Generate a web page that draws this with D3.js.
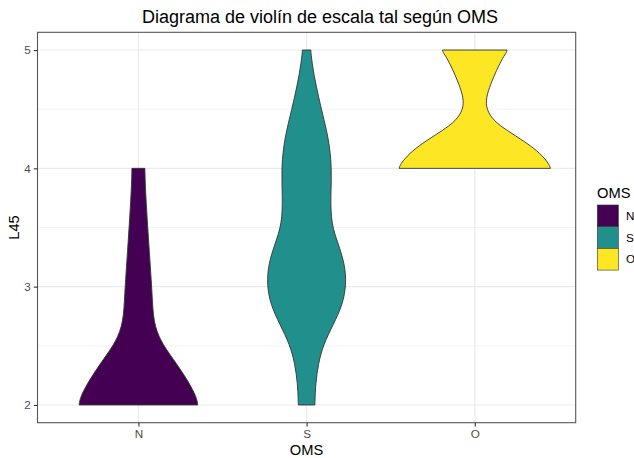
<!DOCTYPE html>
<html>
<head>
<meta charset="utf-8">
<script src="https://cdn.jsdelivr.net/npm/d3@7"></script>
<style>
  html, body { margin: 0; padding: 0; background: #fff; }
  svg { display: block; font-family: "Liberation Sans", Arial, sans-serif; }
</style>
</head>
<body>
<svg id="chart" width="634" height="458"></svg>
<script>
// ---- data ----
const categories = ["N", "S", "O"];
const colors = ["#440154", "#21908C", "#FDE725"];
const yTicks = [2, 3, 4, 5];
const yMinor = [2.5, 3.5, 4.5];
// density profiles [L45 value, relative density]
const densityN = [[2.0,0.783],[2.02,0.780],[2.05,0.770],[2.1,0.741],[2.21,0.648],[2.35,0.503],[2.49,0.345],[2.58,0.270],[2.66,0.225],[2.76,0.196],[2.88,0.185],[3.0,0.175],[3.22,0.152],[3.51,0.122],[3.79,0.095],[3.97,0.086],[4.0,0.086]];
const densityS = [[2.0,0.110],[2.03,0.110],[2.18,0.119],[2.35,0.155],[2.51,0.221],[2.68,0.353],[2.85,0.478],[3.02,0.525],[3.19,0.505],[3.36,0.419],[3.53,0.325],[3.76,0.317],[4.01,0.335],[4.26,0.290],[4.49,0.198],[4.77,0.100],[4.97,0.057],[5.0,0.057]];
const densityO = [[4.0,1.0],[4.02,0.99],[4.06,0.956],[4.15,0.824],[4.23,0.648],[4.32,0.427],[4.4,0.251],[4.5,0.150],[4.6,0.150],[4.71,0.208],[4.83,0.287],[4.94,0.374],[4.98,0.420],[5.0,0.427]];
const densities = [densityN, densityS, densityO];
const title = "Diagrama de violín de escala tal según OMS";
const xTitle = "OMS";
const yTitle = "L45";

// ---- layout ----
const svg = d3.select("#chart");
const P = { left: 37.5, right: 575.7, top: 32.3, bottom: 422.7 };

const x = d3.scalePoint().domain(categories).range([P.left, P.right]).padding(0.6);
const y = d3.scaleLinear().domain([1.85, 5.15]).range([P.bottom, P.top]);
const maxD = d3.max(densities.flat(), d => d[1]);
const w = d3.scaleLinear().domain([0, maxD]).range([0, 0.45 * x.step()]);

// panel background
svg.append("rect").attr("x", P.left).attr("y", P.top)
  .attr("width", P.right - P.left).attr("height", P.bottom - P.top).attr("fill", "#fff");

// grid
const grid = svg.append("g");
grid.selectAll(".ymin").data(yMinor).join("line")
  .attr("x1", P.left).attr("x2", P.right)
  .attr("y1", d => y(d)).attr("y2", d => y(d))
  .attr("stroke", "#EBEBEB").attr("stroke-width", 0.55);
grid.selectAll(".ymaj").data(yTicks).join("line")
  .attr("x1", P.left).attr("x2", P.right)
  .attr("y1", d => y(d)).attr("y2", d => y(d))
  .attr("stroke", "#EBEBEB").attr("stroke-width", 1.1);
grid.selectAll(".xmaj").data(categories).join("line")
  .attr("x1", d => x(d)).attr("x2", d => x(d))
  .attr("y1", P.top).attr("y2", P.bottom)
  .attr("stroke", "#EBEBEB").attr("stroke-width", 1.1);

// violins
categories.forEach((c, i) => {
  const cx = x(c);
  const area = d3.area()
    .y(d => y(d[0]))
    .x0(d => cx - w(d[1]))
    .x1(d => cx + w(d[1]))
    .curve(d3.curveBasis);
  svg.append("path").datum(densities[i])
    .attr("d", area)
    .attr("fill", colors[i])
    .attr("stroke", "#333333")
    .attr("stroke-width", 0.9);
});

// panel border
svg.append("rect").attr("x", P.left).attr("y", P.top)
  .attr("width", P.right - P.left).attr("height", P.bottom - P.top)
  .attr("fill", "none").attr("stroke", "#555").attr("stroke-width", 1.1);

// y axis
const yAxis = d3.axisLeft(y).tickValues(yTicks).tickSize(3.7).tickPadding(3).tickFormat(d3.format("d"));
const gy = svg.append("g").attr("transform", `translate(${P.left},0)`).call(yAxis);
gy.select(".domain").remove();
gy.selectAll(".tick line").attr("stroke", "#333").attr("stroke-width", 1.1);
gy.selectAll(".tick text").attr("fill", "#4D4D4D").style("font-size", "11.7px")
  .style("font-family", "'Liberation Sans', Arial, sans-serif");

// x axis
const xAxis = d3.axisBottom(x).tickSize(3.7).tickPadding(3);
const gx = svg.append("g").attr("transform", `translate(0,${P.bottom})`).call(xAxis);
gx.select(".domain").remove();
gx.selectAll(".tick line").attr("stroke", "#333").attr("stroke-width", 1.1);
gx.selectAll(".tick text").attr("fill", "#4D4D4D").style("font-size", "11.7px")
  .style("font-family", "'Liberation Sans', Arial, sans-serif");

// axis titles
svg.append("text").attr("x", (P.left + P.right) / 2).attr("y", 455)
  .attr("text-anchor", "middle").style("font-size", "14.7px").attr("fill", "#000").text(xTitle);
svg.append("text").attr("transform", `translate(19,${(P.top + P.bottom) / 2}) rotate(-90)`)
  .attr("text-anchor", "middle").style("font-size", "14.7px").attr("fill", "#000").text(yTitle);

// title
svg.append("text").attr("x", 320).attr("y", 23)
  .attr("text-anchor", "middle").style("font-size", "18px").attr("fill", "#000").text(title);

// legend
const lg = svg.append("g");
lg.append("text").attr("x", 597).attr("y", 198).style("font-size", "14.7px").attr("fill", "#000").text("OMS");
const keyH = 21.7, keyW = 21, ky0 = 205;
categories.forEach((c, i) => {
  lg.append("rect").attr("x", 597.3).attr("y", ky0 + i * keyH).attr("width", keyW).attr("height", keyH)
    .attr("fill", colors[i]).attr("stroke", "#333").attr("stroke-width", 0.6);
  lg.append("text").attr("x", 626).attr("y", ky0 + i * keyH + keyH / 2)
    .attr("dy", "0.35em").style("font-size", "11.7px").attr("fill", "#000").text(c);
});
</script>
</body>
</html>
